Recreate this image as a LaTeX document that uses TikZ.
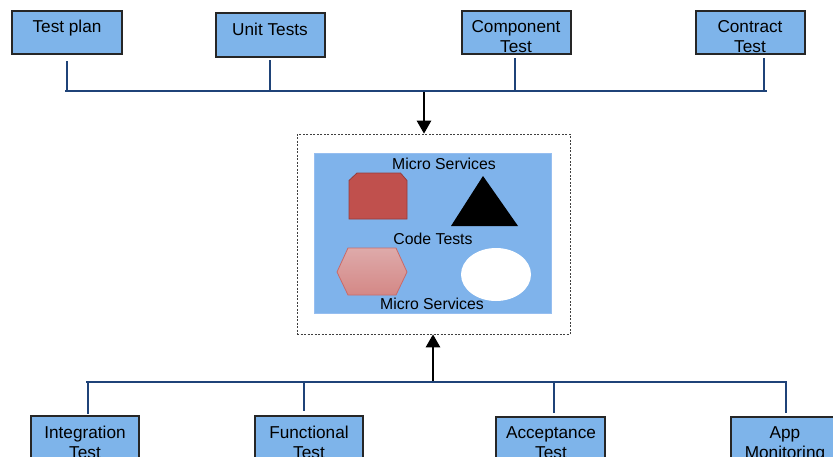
\documentclass[tikz,border=0pt]{standalone}
\usepackage{fontspec}
\setmainfont{Liberation Sans}
\usetikzlibrary{arrows.meta}
\definecolor{boxblue}{RGB}{126,180,234}
\definecolor{innerblue}{RGB}{127,179,235}
\definecolor{innerborder}{RGB}{150,190,240}
\definecolor{busblue}{RGB}{31,67,120}
\definecolor{redshape}{RGB}{192,80,77}
\definecolor{redborder}{RGB}{150,60,58}
\definecolor{pinktop}{RGB}{222,170,170}
\definecolor{pinkbot}{RGB}{212,136,134}
\begin{document}
\begin{tikzpicture}[x=1pt,y=-1pt,
  testbox/.style={draw=black!85,line width=1.1pt,fill=boxblue,inner sep=0pt},
  boxtext/.style={anchor=north,inner sep=0pt,align=center,font=\fontsize{17.2}{20}\selectfont},
  busline/.style={draw=busblue,line width=2.5pt},
  arrowline/.style={draw=black,line width=2.6pt,-{Triangle[length=13pt,width=14pt]}},
  innertext/.style={anchor=base,inner sep=0pt,font=\fontsize{15.8}{18}\selectfont}]
\clip (0,0) rectangle (833,456);
\useasboundingbox (0,0) rectangle (833,456);
\fill[white] (0,0) rectangle (833,456);

% top boxes
\path[testbox] (12,11) rectangle (122,54) node[pos=0.5,inner sep=0] (b1) {};
\path[testbox] (216,13) rectangle (325,57) node[pos=0.5,inner sep=0] (b2) {};
\path[testbox] (462,11) rectangle (571,54) node[pos=0.5,inner sep=0] (b3) {};
\path[testbox] (696,11) rectangle (805,54) node[pos=0.5,inner sep=0] (b4) {};
\node[boxtext] (t1) at (67,19.5) {Test plan};
\node[boxtext] (t2) at (270,22.5) {Unit Tests};
\node[boxtext] (t3) at (516,20) {Component\\Test};
\node[boxtext] (t4) at (750,20) {Contract\\Test};

% top bus
\coordinate (u1) at (67,61);  \coordinate (v1) at (67,91);
\coordinate (u2) at (270,60); \coordinate (v2) at (270,91);
\coordinate (u3) at (515,58); \coordinate (v3) at (515,91);
\coordinate (u4) at (764,58); \coordinate (v4) at (764,91);
\coordinate (busL) at (65,91); \coordinate (busR) at (767,91);
\path[busline] (busL) -- (busR);
\path[busline] (u1) -- (v1);
\path[busline] (u2) -- (v2);
\path[busline] (u3) -- (v3);
\path[busline] (u4) -- (v4);

% dashed container
\node[draw=black!75,dashed,dash pattern=on 2pt off 1.5pt,line width=0.6pt,minimum width=273pt,minimum height=200pt,inner sep=0pt] (cont) at (433.5,234) {};
% inner blue
\node[draw=innerborder,fill=innerblue,line width=0.8pt,minimum width=237pt,minimum height=160pt,inner sep=0pt] (inner) at (432.5,233) {};

% arrows
\coordinate (topA) at (424,92);
\path[arrowline] (topA) -- (topA |- cont.north);
\coordinate (botA) at (433,381);
\path[arrowline] (botA) -- (botA |- cont.south);

% inner texts
\node[innertext] (m1) at (444,169) {Micro Services};
\node[innertext] (ct) at (433,244) {Code Tests};
\node[innertext] (m2) at (432,309) {Micro Services};

% shapes
\draw[fill=redshape,draw=redborder,line width=0.8pt] (349,219) -- (349,180.5) -- (357,173) -- (400.5,173) -- (407,180.5) -- (407,219) -- cycle;
\fill[black] (451,226) -- (483,176) -- (518,226) -- cycle;
\draw[top color=pinktop,bottom color=pinkbot,draw=redshape!85,line width=0.8pt] (337,272) -- (348,248) -- (396,248) -- (407,272) -- (396,295) -- (348,295) -- cycle;
\fill[white] (496,274.5) ellipse [x radius=35, y radius=26.5];

% bottom bus
\coordinate (busL2) at (86,382); \coordinate (busR2) at (787,382);
\path[busline] (busL2) -- (busR2);
\coordinate (p1) at (88,382);  \coordinate (q1) at (88,414);
\coordinate (p2) at (304,382); \coordinate (q2) at (304,411);
\coordinate (p3) at (554,382); \coordinate (q3) at (554,413);
\coordinate (p4) at (786,382); \coordinate (q4) at (786,413);
\path[busline] (p1) -- (q1);
\path[busline] (p2) -- (q2);
\path[busline] (p3) -- (q3);
\path[busline] (p4) -- (q4);

% bottom boxes
\path[testbox] (31,416) rectangle (139,460) node[pos=0.5,inner sep=0] (c1) {};
\path[testbox] (255,416) rectangle (363,460) node[pos=0.5,inner sep=0] (c2) {};
\path[testbox] (496,417) rectangle (605,461) node[pos=0.5,inner sep=0] (c3) {};
\path[testbox] (731,417) rectangle (840,461) node[pos=0.5,inner sep=0] (c4) {};
\node[boxtext] (s1) at (85,426) {Integration\\Test};
\node[boxtext] (s2) at (309,426) {Functional\\Test};
\node[boxtext] (s3) at (551,426.5) {Acceptance\\Test};
\node[boxtext] (s4) at (785,426.5) {App\\Monitoring};
\end{tikzpicture}
\end{document}
